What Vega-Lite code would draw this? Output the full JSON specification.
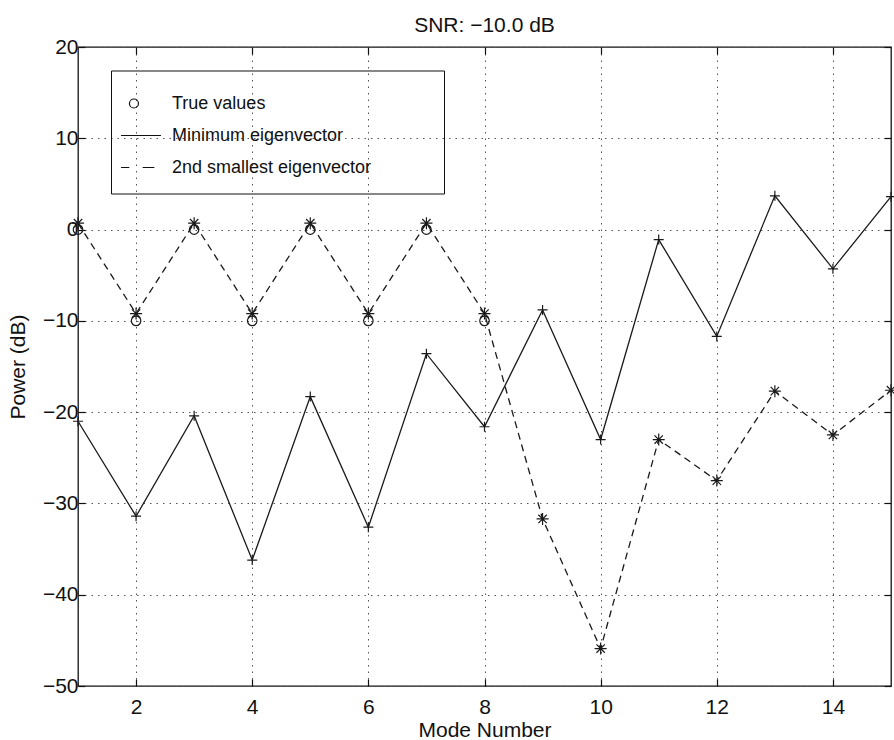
{
  "$schema": "https://vega.github.io/schema/vega-lite/v6.json",
  "width": 813,
  "height": 639,
  "autosize": {"type": "none"},
  "padding": {"left": 78, "top": 47, "right": 3, "bottom": 54},
  "background": "white",
  "title": {
    "text": "SNR:  −10.0 dB",
    "fontSize": 21,
    "font": "Liberation Sans",
    "fontWeight": "normal",
    "color": "#111111",
    "anchor": "middle",
    "frame": "group",
    "baseline": "alphabetic",
    "offset": -17
  },
  "config": {
    "font": "Liberation Sans",
    "view": {"stroke": "#111111", "strokeWidth": 1.3}
  },
  "datasets": {
    "minimum": [
      {"mode": 1, "power": -21.0},
      {"mode": 2, "power": -31.4},
      {"mode": 3, "power": -20.4},
      {"mode": 4, "power": -36.2},
      {"mode": 5, "power": -18.3},
      {"mode": 6, "power": -32.6},
      {"mode": 7, "power": -13.6},
      {"mode": 8, "power": -21.6},
      {"mode": 9, "power": -8.8},
      {"mode": 10, "power": -23.0},
      {"mode": 11, "power": -1.1},
      {"mode": 12, "power": -11.7},
      {"mode": 13, "power": 3.7},
      {"mode": 14, "power": -4.3},
      {"mode": 15, "power": 3.6}
    ],
    "second": [
      {"mode": 1, "power": 0.7},
      {"mode": 2, "power": -9.2},
      {"mode": 3, "power": 0.7},
      {"mode": 4, "power": -9.2},
      {"mode": 5, "power": 0.7},
      {"mode": 6, "power": -9.2},
      {"mode": 7, "power": 0.7},
      {"mode": 8, "power": -9.2},
      {"mode": 9, "power": -31.7},
      {"mode": 10, "power": -45.9},
      {"mode": 11, "power": -23.0},
      {"mode": 12, "power": -27.5},
      {"mode": 13, "power": -17.7},
      {"mode": 14, "power": -22.5},
      {"mode": 15, "power": -17.6}
    ],
    "truth": [
      {"mode": 1, "power": 0},
      {"mode": 2, "power": -10},
      {"mode": 3, "power": 0},
      {"mode": 4, "power": -10},
      {"mode": 5, "power": 0},
      {"mode": 6, "power": -10},
      {"mode": 7, "power": 0},
      {"mode": 8, "power": -10}
    ],
    "legendRows": [
      {"series": "True values"},
      {"series": "Minimum eigenvector"},
      {"series": "2nd smallest eigenvector"}
    ]
  },
  "layer": [
    {
      "data": {"name": "minimum"},
      "mark": {"type": "line", "stroke": "#1a1a1a", "strokeWidth": 1.3},
      "encoding": {
        "x": {
          "field": "mode", "type": "quantitative",
          "scale": {"domain": [1, 15], "nice": false, "zero": false},
          "axis": {
            "orient": "bottom",
            "values": [2, 4, 6, 8, 10, 12, 14],
            "grid": true, "gridDash": [1.5, 5], "gridColor": "#555555", "gridWidth": 1,
            "domain": false,
            "tickSize": -7, "tickColor": "#111111", "tickWidth": 1.2,
            "labelPadding": 17, "labelFontSize": 21, "labelColor": "#111111", "labelFlush": false,
            "title": "Mode Number", "titleFontSize": 21, "titleFontWeight": "normal", "titleColor": "#111111", "titlePadding": 2
          }
        },
        "y": {
          "field": "power", "type": "quantitative",
          "scale": {"domain": [-50, 20], "nice": false, "zero": false},
          "axis": {
            "orient": "left",
            "values": [-50, -40, -30, -20, -10, 0, 10, 20],
            "grid": true, "gridDash": [1.5, 5], "gridColor": "#555555", "gridWidth": 1,
            "domain": false,
            "tickSize": -7, "tickColor": "#111111", "tickWidth": 1.2,
            "labelPadding": 7, "labelFontSize": 21, "labelColor": "#111111", "labelFlush": false,
            "title": "Power (dB)", "titleFontSize": 21, "titleFontWeight": "normal", "titleColor": "#111111", "titlePadding": 14
          }
        }
      }
    },
    {
      "data": {"name": "minimum"},
      "mark": {"type": "point", "shape": "M-1,0H1M0,-1V1", "size": 100, "filled": false, "stroke": "#1a1a1a", "strokeWidth": 1.2, "opacity": 1},
      "encoding": {
        "x": {"field": "mode", "type": "quantitative", "scale": {"domain": [1, 15], "nice": false, "zero": false}, "axis": null},
        "y": {"field": "power", "type": "quantitative", "scale": {"domain": [-50, 20], "nice": false, "zero": false}, "axis": null}
      }
    },
    {
      "data": {"name": "second"},
      "mark": {"type": "line", "stroke": "#1a1a1a", "strokeWidth": 1.3, "strokeDash": [7, 5]},
      "encoding": {
        "x": {"field": "mode", "type": "quantitative", "scale": {"domain": [1, 15], "nice": false, "zero": false}, "axis": null},
        "y": {"field": "power", "type": "quantitative", "scale": {"domain": [-50, 20], "nice": false, "zero": false}, "axis": null}
      }
    },
    {
      "data": {"name": "second"},
      "mark": {"type": "point", "shape": "M-1,0H1M0,-1V1M-0.7,-0.7L0.7,0.7M-0.7,0.7L0.7,-0.7", "size": 144, "filled": false, "stroke": "#1a1a1a", "strokeWidth": 1.2, "opacity": 1},
      "encoding": {
        "x": {"field": "mode", "type": "quantitative", "scale": {"domain": [1, 15], "nice": false, "zero": false}, "axis": null},
        "y": {"field": "power", "type": "quantitative", "scale": {"domain": [-50, 20], "nice": false, "zero": false}, "axis": null}
      }
    },
    {
      "data": {"name": "truth"},
      "mark": {"type": "point", "shape": "circle", "size": 90, "filled": false, "stroke": "#1a1a1a", "strokeWidth": 1.2, "opacity": 1},
      "encoding": {
        "x": {
          "field": "mode", "type": "quantitative",
          "scale": {"domain": [1, 15], "nice": false, "zero": false},
          "axis": {
            "orient": "top", "values": [2, 4, 6, 8, 10, 12, 14],
            "labels": false, "grid": false, "domain": false,
            "tickSize": -7, "tickColor": "#111111", "tickWidth": 1.2, "title": null
          }
        },
        "y": {
          "field": "power", "type": "quantitative",
          "scale": {"domain": [-50, 20], "nice": false, "zero": false},
          "axis": {
            "orient": "right", "values": [-50, -40, -30, -20, -10, 0, 10, 20],
            "labels": false, "grid": false, "domain": false,
            "tickSize": -7, "tickColor": "#111111", "tickWidth": 1.2, "title": null
          }
        }
      }
    },
    {
      "data": {"name": "legendRows"},
      "transform": [{"filter": "false"}],
      "mark": {"type": "point", "filled": false},
      "encoding": {
        "shape": {
          "field": "series", "type": "nominal",
          "scale": {
            "domain": ["True values", "Minimum eigenvector", "2nd smallest eigenvector"],
            "range": [
              "M-0.37,0A0.3,0.3 0 1,1 -0.97,0A0.3,0.3 0 1,1 -0.37,0Z",
              "M-1.53,0H1.13",
              "M-1.53,0H-0.98M-0.09,0H0.69"
            ]
          },
          "legend": {
            "title": null,
            "orient": "none",
            "legendX": 33,
            "legendY": 23.5,
            "padding": 17,
            "strokeColor": "#111111",
            "symbolSize": 900,
            "symbolStrokeColor": "#111111",
            "symbolFillColor": "transparent",
            "symbolStrokeWidth": 1.2,
            "symbolOpacity": 1,
            "labelFontSize": 18,
            "labelColor": "#111111",
            "labelOffset": 12,
            "labelLimit": 500,
            "rowPadding": 7,
            "labelExpr": "datum.label + '\u00a0\u00a0\u00a0\u00a0\u00a0\u00a0\u00a0\u00a0\u00a0\u00a0\u00a0\u200b'"
          }
        }
      }
    }
  ],
  "resolve": {"axis": {"x": "independent", "y": "independent"}}
}
